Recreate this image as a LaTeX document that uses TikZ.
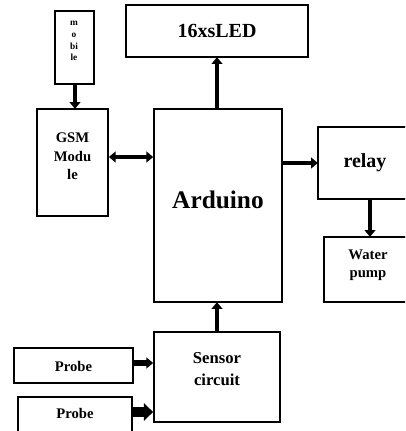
\documentclass[tikz,border=0pt]{standalone}
\usepackage{fontspec}
\setmainfont{Liberation Serif}
\usetikzlibrary{arrows.meta}
\tikzset{
  blk/.style={draw, line width=1.3pt, inner sep=0pt, fill=white},
  lbl/.style={inner sep=0pt, align=center, font=\bfseries},
  conn/.style={line width=3.5pt, -{Triangle[width=8pt,length=5pt]}, shorten >=-0.5pt},
}
\begin{document}
\begin{tikzpicture}[x=0.75pt,y=-0.75pt]
\useasboundingbox (0,0) rectangle (405,431);
\clip (0,0) rectangle (405,431);
\fill[white] (0,0) rectangle (405,431);
% boxes
\node[blk, minimum width=29.25pt, minimum height=54.75pt] (mobile) at (74.5,47.5) {};
\node[blk, minimum width=136.5pt, minimum height=39pt] (led) at (217,31) {};
\node[blk, minimum width=53.25pt, minimum height=80.25pt] (gsm) at (72.5,162.5) {};
\node[blk, minimum width=96pt, minimum height=144.75pt] (ard) at (218,205.5) {};
\node[blk, minimum width=69pt, minimum height=54pt] (relay) at (364,163) {};
\node[blk, minimum width=64.5pt, minimum height=48.75pt] (pump) at (367,269.5) {};
\node[blk, minimum width=94.5pt, minimum height=67.5pt] (sensor) at (217,377) {};
\node[blk, minimum width=89.25pt, minimum height=26.25pt] (probea) at (73.5,365.5) {};
\node[blk, minimum width=85.5pt, minimum height=32.25pt] (probeb) at (75,418.5) {};
% texts
\node[lbl, font=\bfseries\fontsize{7}{8.8}\selectfont] (mobiletxt) at (74,41) {m\\o\\bi\\le};
\node[lbl, font=\bfseries\fontsize{15}{18}\selectfont] (ledtxt) at (217,31) {16xsLED};
\node[lbl, font=\bfseries\fontsize{11}{13.8}\selectfont] (gsmtxt) at (72.5,156.5) {GSM\\Modu\\le};
\node[lbl, font=\bfseries\fontsize{19}{23}\selectfont] (ardtxt) at (218,200) {Arduino};
\node[lbl, font=\bfseries\fontsize{15}{18}\selectfont] (relaytxt) at (365,163) {relay};
\node[lbl, font=\bfseries\fontsize{11}{13.5}\selectfont] (pumptxt) at (368,265) {Water\\pump};
\node[lbl, font=\bfseries\fontsize{12.5}{16.5}\selectfont] (sensortxt) at (217,369.5) {Sensor\\circuit};
\node[lbl, font=\bfseries\fontsize{11}{13}\selectfont] (probeatxt) at (73.5,366) {Probe};
\node[lbl, font=\bfseries\fontsize{11}{13}\selectfont] (probebtxt) at (75,413) {Probe};
% connectors
\draw[conn] (mobile.south -| 75,0) -- (gsm.north -| 75,0);
\draw[line width=3.5pt, {Triangle[width=8pt,length=5pt]}-{Triangle[width=8pt,length=5pt]}] (gsm.east |- 0,157) -- (ard.west |- 0,157);
\draw[conn] (ard.north -| 217,0) -- (led.south -| 217,0);
\draw[conn] (ard.east |- 0,163) -- (relay.west |- 0,163);
\draw[conn] (relay.south -| 370,0) -- (pump.north -| 370,0);
\draw[conn] (sensor.north -| 217,0) -- (ard.south -| 217,0);
\draw[line width=4.5pt, -{Triangle[width=8pt,length=5pt]}] (probea.east |- 0,363) -- (sensor.west |- 0,363);
\draw[line width=7pt, -{Triangle[width=13pt,length=7pt]}] (probeb.east |- 0,412) -- (sensor.west |- 0,412);
\end{tikzpicture}
\end{document}
